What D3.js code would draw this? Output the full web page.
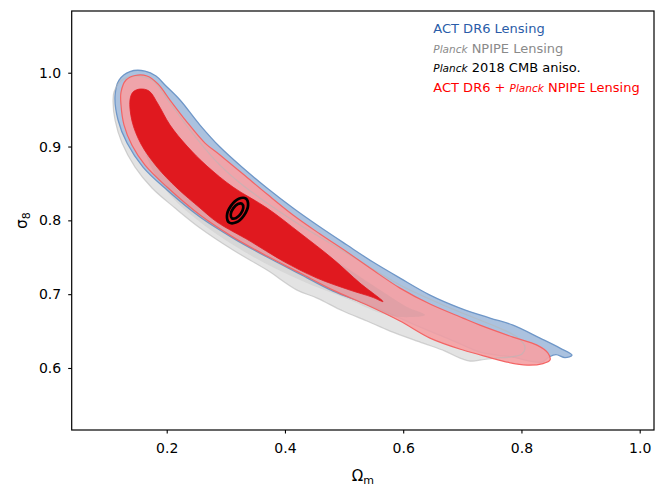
<!DOCTYPE html>
<html lang="en">
<head>
  <meta charset="UTF-8">
  <title>Omega_m vs sigma_8 constraints</title>
  <script src="https://d3js.org/d3.v7.min.js"></script>
  <style>
    body {
      margin: 0;
      background: #fff;
    }

    svg {
      display: block;
      font-family: "DejaVu Sans", sans-serif;
    }

    .tick text {
      font-size: 14px;
      font-family: "DejaVu Sans", sans-serif;
      fill: #000;
    }

    .tick line {
      stroke: #000;
      stroke-width: 1.1px;
    }

    .axis-label {
      font-size: 15px;
      fill: #000;
    }

    .legend text {
      font-size: 13px;
    }
  </style>
</head>
<body>
  <svg width="665" height="497"></svg>

  <script>
    // axis ranges and ticks
    const omegaRange = [0.0393, 1.0242];
    const sigmaRange = [0.516, 1.0836];
    const omegaTicks = [0.2, 0.4, 0.6, 0.8, 1.0];
    const sigmaTicks = [0.6, 0.7, 0.8, 0.9, 1.0];

    // contours, [Omega_m, sigma_8]
    const npipe95 = [
      [0.1109, 0.9738], [0.1244, 0.9901], [0.1498, 0.9955], [0.1751, 0.9901], [0.2022, 0.9630],
      [0.2394, 0.9224], [0.2817, 0.8817], [0.3240, 0.8505], [0.3696, 0.8234], [0.4255, 0.7936],
      [0.5100, 0.7530], [0.5946, 0.7123], [0.6792, 0.6812], [0.7587, 0.6554], [0.7925, 0.6419],
      [0.8060, 0.6283], [0.8009, 0.6189], [0.7806, 0.6148], [0.7553, 0.6134], [0.7299, 0.6107],
      [0.7130, 0.6093], [0.6961, 0.6134], [0.6707, 0.6229], [0.6335, 0.6337], [0.5777, 0.6500],
      [0.5388, 0.6636], [0.4982, 0.6771], [0.4542, 0.6947], [0.4204, 0.7055], [0.3696, 0.7326],
      [0.3121, 0.7598], [0.2563, 0.7896], [0.2140, 0.8167], [0.1751, 0.8438], [0.1464, 0.8722],
      [0.1244, 0.9047], [0.1126, 0.9359], [0.1092, 0.9603]
    ];
    const npipe68 = [
      [0.1548, 0.9630], [0.1718, 0.9698], [0.1887, 0.9522], [0.2225, 0.9088], [0.2732, 0.8682],
      [0.3409, 0.8275], [0.4255, 0.7774], [0.5100, 0.7326], [0.5608, 0.7055], [0.6064, 0.6825],
      [0.6369, 0.6717], [0.5946, 0.6690], [0.5608, 0.6744], [0.5100, 0.6920], [0.4255, 0.7191],
      [0.3409, 0.7530], [0.2563, 0.7977], [0.2056, 0.8343], [0.1718, 0.8749], [0.1548, 0.9224]
    ];
    const act95 = [
      [0.1126, 0.9684], [0.1194, 0.9901], [0.1379, 1.0016], [0.1633, 1.0023], [0.1819, 0.9955],
      [0.1975, 0.9830], [0.2225, 0.9630], [0.2563, 0.9291], [0.2901, 0.8993], [0.3291, 0.8709],
      [0.3696, 0.8438], [0.4136, 0.8167], [0.4593, 0.7909], [0.5050, 0.7665], [0.5489, 0.7435],
      [0.5946, 0.7218], [0.6453, 0.6988], [0.6961, 0.6812], [0.7468, 0.6676], [0.7857, 0.6581],
      [0.8314, 0.6405], [0.8652, 0.6270], [0.8855, 0.6175], [0.8737, 0.6141], [0.8584, 0.6182],
      [0.8466, 0.6148], [0.8348, 0.6080], [0.8145, 0.6093], [0.7857, 0.6148], [0.7587, 0.6175],
      [0.7299, 0.6216], [0.6741, 0.6405], [0.6166, 0.6595], [0.5946, 0.6676], [0.5388, 0.6866],
      [0.4813, 0.7042], [0.4255, 0.7272], [0.3696, 0.7503], [0.3121, 0.7760], [0.2563, 0.8045],
      [0.2005, 0.8411], [0.1599, 0.8722], [0.1329, 0.9047], [0.1177, 0.9359]
    ];
    const combined95 = [
      [0.1227, 0.9738], [0.1312, 0.9901], [0.1464, 0.9962], [0.1667, 0.9955], [0.1853, 0.9847],
      [0.2056, 0.9630], [0.2343, 0.9332], [0.2648, 0.9047], [0.2901, 0.8885], [0.3291, 0.8627],
      [0.3696, 0.8356], [0.4136, 0.8072], [0.4593, 0.7815], [0.5050, 0.7571], [0.5489, 0.7326],
      [0.5946, 0.7082], [0.6453, 0.6866], [0.7011, 0.6676], [0.7299, 0.6581], [0.7857, 0.6419],
      [0.8263, 0.6310], [0.8449, 0.6202], [0.8483, 0.6107], [0.8365, 0.6060], [0.8094, 0.6039],
      [0.7756, 0.6080], [0.7468, 0.6141], [0.7011, 0.6243], [0.6453, 0.6405], [0.5946, 0.6636],
      [0.5388, 0.6853], [0.4813, 0.7055], [0.4255, 0.7286], [0.3696, 0.7516], [0.3121, 0.7774],
      [0.2563, 0.8072], [0.2005, 0.8451], [0.1633, 0.8749], [0.1413, 0.9018], [0.1278, 0.9291],
      [0.1227, 0.9562]
    ];
    const combined68 = [
      [0.1379, 0.9630], [0.1430, 0.9738], [0.1548, 0.9779], [0.1701, 0.9752], [0.1853, 0.9576],
      [0.2056, 0.9291], [0.2343, 0.9007], [0.2681, 0.8736], [0.3121, 0.8451], [0.3696, 0.8167],
      [0.4255, 0.7828], [0.4813, 0.7476], [0.5269, 0.7150], [0.5658, 0.6900], [0.5472, 0.6961],
      [0.5100, 0.7055], [0.4542, 0.7218], [0.3967, 0.7448], [0.3409, 0.7719], [0.2851, 0.7977],
      [0.2563, 0.8167], [0.2174, 0.8438], [0.1836, 0.8722], [0.1565, 0.9034], [0.1413, 0.9345]
    ];
    const cmb95 = [
      [0.3340, 0.8295], [0.3376, 0.8203], [0.3309, 0.8070], [0.3178, 0.7973],
      [0.3056, 0.7971], [0.3019, 0.8063], [0.3086, 0.8196], [0.3218, 0.8293]
    ];
    const cmb68 = [
      [0.3275, 0.8224], [0.3295, 0.8169], [0.3252, 0.8090], [0.3174, 0.8032],
      [0.3103, 0.8028], [0.3083, 0.8083], [0.3125, 0.8162], [0.3204, 0.8220]
    ];

    // legend entries: parts are [text, italic]
    const legendEntries = [
      { color: "#2a5ca8", parts: [["ACT DR6 Lensing", false]] },
      { color: "#8a8a8a", parts: [["Planck", true], [" NPIPE Lensing", false]] },
      { color: "#000000", parts: [["Planck", true], [" 2018 CMB aniso.", false]] },
      { color: "#ff0000", parts: [["ACT DR6 + ", false], ["Planck", true], [" NPIPE Lensing", false]] }
    ];

    const W = 665, H = 497;
    const margin = {top: 11, right: 11, bottom: 67, left: 71.7};
    const width = W - margin.left - margin.right,
          height = H - margin.top - margin.bottom;

    const svg = d3.select("svg");
    const g = svg.append("g").attr("transform", `translate(${margin.left},${margin.top})`);

    const x = d3.scaleLinear().domain(omegaRange).range([0, width]);
    const y = d3.scaleLinear().domain(sigmaRange).range([height, 0]);

    const shape = d3.line()
      .x(d => x(d[0]))
      .y(d => y(d[1]))
      .curve(d3.curveCatmullRomClosed.alpha(0.5));

    const plot = g.append("g");

    // Planck NPIPE lensing (grey) underneath
    plot.append("path").attr("d", shape(npipe95))
      .attr("fill", "#e3e3e3").attr("stroke", "none");

    // ACT DR6 lensing (blue)
    plot.append("path").attr("d", shape(act95))
      .attr("fill", "#abc2df").attr("stroke", "#6f97c8").attr("stroke-width", 1.3);

    // combined 95% (pink)
    plot.append("path").attr("d", shape(combined95))
      .attr("fill", "#f4a2a5").attr("fill-opacity", 0.92).attr("stroke", "none");

    // grey outline and 68% region seen through the pink
    plot.append("path").attr("d", shape(npipe95))
      .attr("fill", "none").attr("stroke", "#b8b8b8").attr("stroke-opacity", 0.6).attr("stroke-width", 1.2);
    plot.append("path").attr("d", shape(npipe68))
      .attr("fill", "#8c8c8c").attr("fill-opacity", 0.14).attr("stroke", "none");

    plot.append("path").attr("d", shape(combined95))
      .attr("fill", "none").attr("stroke", "#f46464").attr("stroke-width", 1.2);

    // combined 68% (red)
    plot.append("path").attr("d", shape(combined68))
      .attr("fill", "#e0191f").attr("stroke", "#e0191f").attr("stroke-width", 0.8);

    // Planck 2018 CMB contours (black lines)
    [cmb95, cmb68].forEach(c => {
      plot.append("path").attr("d", shape(c))
        .attr("fill", "none").attr("stroke", "#000").attr("stroke-width", 2.7);
    });

    // axes
    g.append("g")
      .attr("transform", `translate(0,${height})`)
      .call(d3.axisBottom(x).tickValues(omegaTicks).tickFormat(d3.format(".1f"))
        .tickSize(3.5).tickPadding(9.5))
      .call(a => a.select(".domain").remove());

    g.append("g")
      .call(d3.axisLeft(y).tickValues(sigmaTicks).tickFormat(d3.format(".1f"))
        .tickSize(3.5).tickPadding(7))
      .call(a => a.select(".domain").remove());

    // frame
    g.append("rect")
      .attr("width", width).attr("height", height)
      .attr("fill", "none").attr("stroke", "#000").attr("stroke-width", 1.2);

    // axis labels
    const xl = g.append("text")
      .attr("class", "axis-label")
      .attr("x", width / 2).attr("y", height + 51)
      .attr("text-anchor", "middle");
    xl.append("tspan").text("\u03a9");
    xl.append("tspan").attr("font-size", "11px").attr("dy", 3).text("m");

    const yl = g.append("text")
      .attr("class", "axis-label")
      .attr("transform", `translate(-45,${height / 2}) rotate(-90)`)
      .attr("text-anchor", "middle");
    yl.append("tspan").text("\u03c3");
    yl.append("tspan").attr("font-size", "11px").attr("dy", 3).text("8");

    // legend
    const legend = g.append("g").attr("class", "legend")
      .attr("transform", `translate(${433.3 - margin.left},${33 - margin.top})`);
    legendEntries.forEach((e, i) => {
      const t = legend.append("text").attr("y", i * 19.5).attr("fill", e.color);
      e.parts.forEach(p => {
        const s = t.append("tspan").text(p[0]);
        if (p[1]) s.attr("font-style", "italic").attr("font-size", "10.5px");
      });
    });
  </script>
</body>
</html>
